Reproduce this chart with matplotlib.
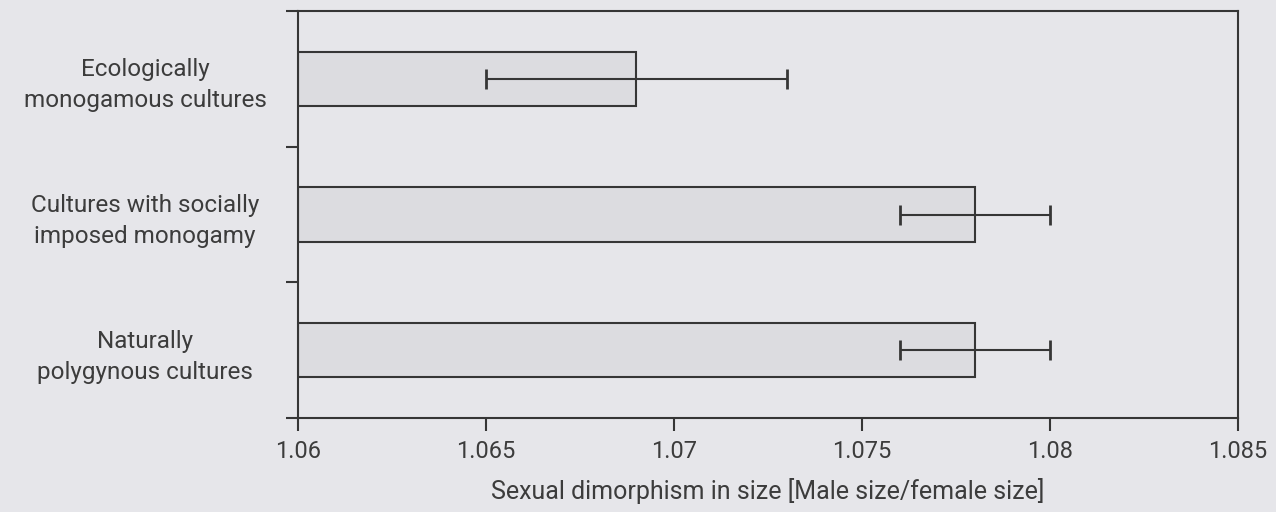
import numpy as np
import matplotlib
matplotlib.use("Agg")
from matplotlib import pyplot as plt

# data
categories = ["Ecologically\nmonogamous cultures",
              "Cultures with socially\nimposed monogamy",
              "Naturally\npolygynous cultures"]
means = [1.069, 1.078, 1.078]
err_low = [1.065, 1.076, 1.076]
err_high = [1.073, 1.080, 1.080]
xticks = [1.06, 1.065, 1.07, 1.075, 1.08, 1.085]
xtick_labels = ["1.06", "1.065", "1.07", "1.075", "1.08", "1.085"]

plt.rcParams['font.family'] = ['Roboto', 'DejaVu Sans']
bg = '#e6e6ea'
edge = '#363636'
txt = '#3c3c3c'

fig = plt.figure(figsize=(12.76, 5.12), dpi=100, facecolor=bg)
ax = fig.add_axes([298/1276, 1 - 418/512, (1238-298)/1276, (418-11)/512])
ax.set_facecolor(bg)

y = np.arange(len(categories))
base = 1.06
widths = [m - base for m in means]
ax.barh(y, widths, left=base, height=0.4, color='#dcdce0', edgecolor=edge, linewidth=1.5)

# error bars drawn as intervals
mid_err = [(lo + hi) / 2 for lo, hi in zip(err_low, err_high)]
half = [(hi - lo) / 2 for lo, hi in zip(err_low, err_high)]
ax.errorbar(mid_err, y, xerr=half, fmt='none', ecolor=edge, elinewidth=1.5,
            capsize=7, capthick=2)

ax.set_xlim(1.06, 1.085)
ax.set_ylim(2.5, -0.5)
ax.set_xticks(xticks)
ax.set_xticklabels(xtick_labels, fontsize=17, color=txt)
ax.set_yticks(y)
ax.set_yticklabels(categories, fontsize=17.5, color=txt, multialignment='center',
                   ha='center', linespacing=1.45)
ax.tick_params(axis='y', length=0, pad=110)
ax.set_yticks([-0.5, 0.5, 1.5, 2.5], minor=True)
ax.tick_params(axis='y', which='minor', length=9, width=1.5, color=edge, direction='out')
ax.tick_params(axis='x', length=9, width=1.5, color=edge, direction='out', pad=7)

for s in ax.spines.values():
    s.set_color(edge)
    s.set_linewidth(1.5)

ax.set_xlabel("Sexual dimorphism in size [Male size/female size]", fontsize=18,
              color=txt, labelpad=11)

fig.savefig("out.png", dpi=100, facecolor=bg)
